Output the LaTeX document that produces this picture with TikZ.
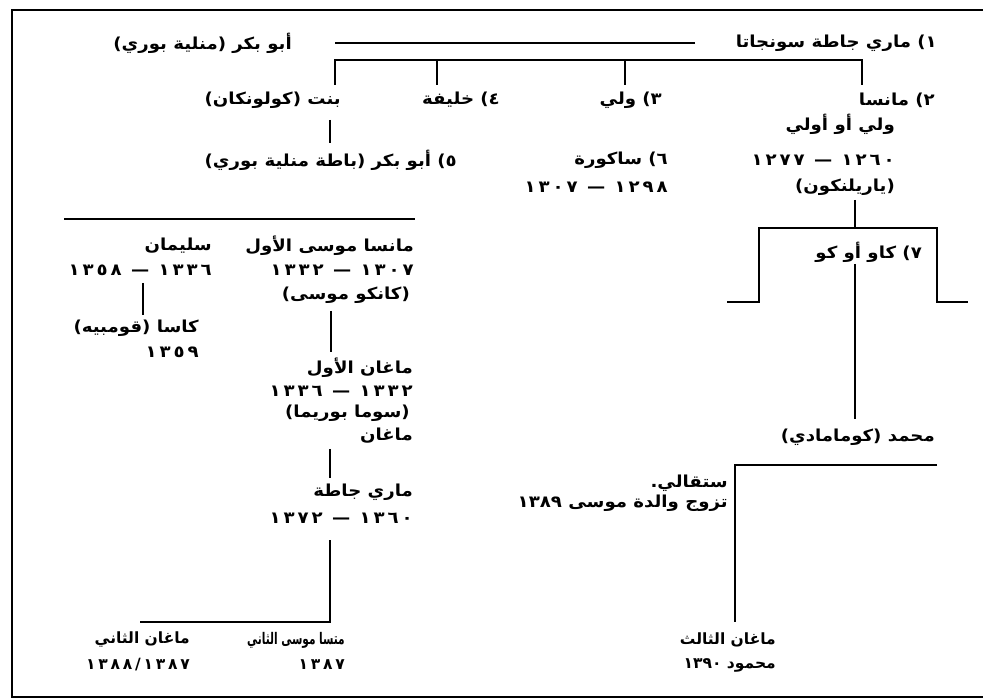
\documentclass[tikz,border=0pt]{standalone}
\usepackage{fontspec}
\TeXXeTstate=1
\newfontfamily\arabicfont[Script=Arabic,FakeStretch=1.1]{DejaVu Sans Bold}
\newfontfamily\arabicsm[Script=Arabic]{DejaVu Sans Bold}
\newfontfamily\arabiccond[Script=Arabic,FakeStretch=0.66]{DejaVu Sans Bold}
\newfontfamily\numfont[Script=Arabic,FakeStretch=1.1,LetterSpace=18]{DejaVu Sans Bold}
\newfontfamily\numsm[Script=Arabic,LetterSpace=18]{DejaVu Sans Bold}
\newcommand\artext[1]{\beginR#1\endR}
\newcommand\rlm{^^^^200f}
\begin{document}
\begin{tikzpicture}[x=1pt,y=-1pt,
  ar/.style={font=\arabicfont\fontsize{16.5}{18}\selectfont, inner sep=0pt, anchor=east},
  nm/.style={font=\numfont\fontsize{16.5}{18}\selectfont, inner sep=0pt, anchor=east},
  arsm/.style={font=\arabicsm\fontsize{15.5}{17}\selectfont, inner sep=0pt, anchor=east},
  arcond/.style={font=\arabiccond\fontsize{16}{18}\selectfont, inner sep=0pt, anchor=east},
  nmsm/.style={font=\numsm\fontsize{15.5}{17}\selectfont, inner sep=0pt, anchor=east},
  ln/.style={line width=2pt},
  frame/.style={line width=2.6pt}]
\useasboundingbox (0,0) rectangle (983,700);
% frame
\coordinate (fTL) at (12,10);
\coordinate (fTR) at (983,10);
\coordinate (fBL) at (12,697);
\coordinate (fBR) at (983,697);
\draw[frame] (fTR) -- (fTL) -- (fBL) -- (fBR);

% top row
\node[ar] (n1) at (937,43) {\artext{\rlm١) ماري جاطة سونجاتا}};
\node[ar] (abu) at (292,43) {\artext{أبو بكر (منلية بوري)}};
\coordinate (tR) at (695,43);
\coordinate (tL) at (335,43);
\draw[ln] (tR) -- (tL);

% bracket
\coordinate (bTop) at (862,60);
\coordinate (bA) at (335,85);
\coordinate (bB) at (437,85);
\coordinate (bC) at (625,85);
\coordinate (bD) at (862,85);
\draw[ln] (bA) |- (bTop) -- (bD);
\draw[ln] (bB) -- (bB|-bTop);
\draw[ln] (bC) -- (bC|-bTop);

% row 2
\node[ar] (n2) at (935,100) {\artext{\rlm٢) مانسا}};
\node[ar] (n3) at (662,100) {\artext{\rlm٣) ولي}};
\node[ar] (n4) at (500,100) {\artext{\rlm٤) خليفة}};
\node[ar] (bint) at (341,100) {\artext{بنت (كولونكان)}};
\coordinate (bintD1) at (330,120);
\coordinate (bintD2) at (330,143);
\draw[ln] (bintD1) -- (bintD2);
\node[ar] (n5) at (457,160) {\artext{\rlm٥) أبو بكر (باطة منلية بوري)}};

% mansa uli column
\node[ar] (uli) at (895,124) {\artext{ولي أو أولي}};
\node[nm] (uliD) at (895,160) {\artext{١٢٦٠ — ١٢٧٧}};
\node[ar] (uliN) at (895,187) {\artext{(ياريلنكون)}};

% sakura
\node[ar] (n6) at (668,160) {\artext{\rlm٦) ساكورة}};
\node[nm] (n6D) at (668,187) {\artext{١٢٩٨ — ١٣٠٧}};

% gao branch
\coordinate (gTop) at (855,200);
\coordinate (gMid) at (855,228);
\coordinate (gL) at (759,228);
\coordinate (gR) at (937,228);
\coordinate (gLB) at (759,302);
\coordinate (gRB) at (937,302);
\coordinate (gLS) at (727,302);
\coordinate (gRS) at (968,302);
\draw[ln] (gTop) -- (gMid);
\draw[ln] (gLS) -- (gLB) -- (gL) -- (gR) -- (gRB) -- (gRS);
\node[ar] (n7) at (922,252) {\artext{\rlm٧) كاو أو كو}};
\coordinate (g7a) at (855,264);
\coordinate (g7b) at (855,419);
\draw[ln] (g7a) -- (g7b);
\node[ar] (muh) at (935,437) {\artext{محمد (كومامادي)}};
\coordinate (mR) at (937,465);
\coordinate (mL) at (735,465);
\coordinate (mB) at (735,622);
\draw[ln] (mR) -- (mL) -- (mB);
\node[ar] (sq) at (728,483) {\artext{ستقالي.}};
\node[ar] (tz) at (728,503) {\artext{تزوج والدة موسى ١٣٨٩}};
\node[arsm] (m3) at (776,640) {\artext{ماغان الثالث}};
\node[arsm] (m3d) at (776,665) {\artext{محمود ١٣٩٠}};

% left block
\coordinate (lL) at (64,219);
\coordinate (lR) at (415,219);
\draw[ln] (lL) -- (lR);
\node[ar] (mm) at (414,246) {\artext{مانسا موسى الأول}};
\node[nm] (mmD) at (414,270) {\artext{١٣٠٧ — ١٣٣٢}};
\node[ar] (mmN) at (410,295) {\artext{(كانكو موسى)}};
\coordinate (v1a) at (331,311);
\coordinate (v1b) at (331,352);
\draw[ln] (v1a) -- (v1b);
\node[ar] (mg1) at (413,368) {\artext{ماغان الأول}};
\node[nm] (mg1D) at (413,391) {\artext{١٣٣٢ — ١٣٣٦}};
\node[ar] (mg1N) at (410,413) {\artext{(سوما بوريما)}};
\node[ar] (mg) at (413,436) {\artext{ماغان}};
\coordinate (v2a) at (330,449);
\coordinate (v2b) at (330,478);
\draw[ln] (v2a) -- (v2b);
\node[ar] (mj) at (413,492) {\artext{ماري جاطة}};
\node[nm] (mjD) at (413,518) {\artext{١٣٦٠ — ١٣٧٢}};
\coordinate (v3a) at (330,540);
\coordinate (v3b) at (330,622);
\coordinate (v3c) at (140,622);
\draw[ln] (v3a) -- (v3b) -- (v3c);
\node[arcond] (ms2) at (345,640) {\artext{متسا موسى الثاني}};
\node[nmsm] (ms2d) at (345,665) {\artext{١٣٨٧}};
\node[arsm] (mg2) at (190,640) {\artext{ماغان الثاني}};
\node[nmsm] (mg2d) at (190,665) {\artext{١٣٨٨/١٣٨٧}};

\node[ar] (sul) at (212,246) {\artext{سليمان}};
\node[nm] (sulD) at (212,270) {\artext{١٣٣٦ — ١٣٥٨}};
\coordinate (v4a) at (143,283);
\coordinate (v4b) at (143,315);
\draw[ln] (v4a) -- (v4b);
\node[ar] (ks) at (199,328) {\artext{كاسا (قومبيه)}};
\node[nm] (ksD) at (199,352) {\artext{١٣٥٩}};
\end{tikzpicture}
\end{document}
